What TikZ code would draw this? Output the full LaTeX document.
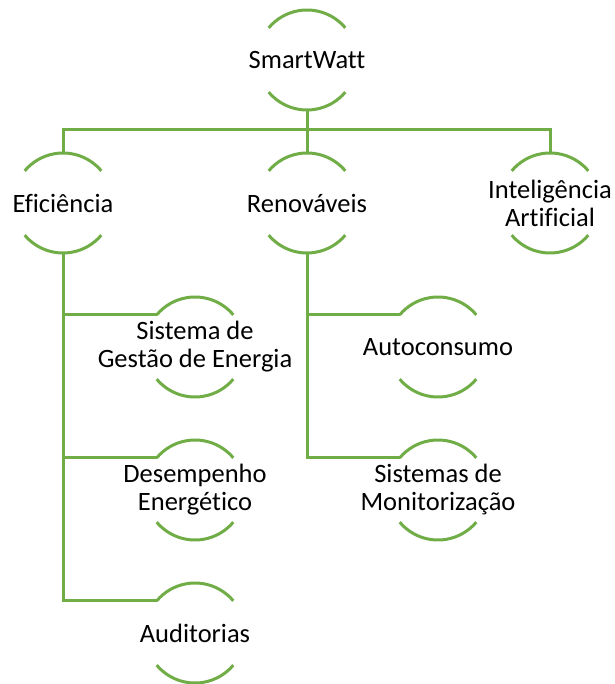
\documentclass[tikz,border=0pt]{standalone}
\usepackage{fontspec}
\setmainfont{Carlito}[Ligatures={NoCommon}]
\definecolor{leaf}{RGB}{112,173,71}

\tikzset{
  bub/.style={circle, minimum size=100pt, inner sep=0pt, outer sep=0pt},
  txt/.style={align=center, text=black, font=\fontsize{26.5}{28}\selectfont},
  rim/.style={draw=leaf, line width=3pt},
  link/.style={draw=leaf, line width=3pt}
}

\begin{document}
\begin{tikzpicture}[x=1pt,y=-1pt]%
  \useasboundingbox (0,0) rectangle (614,684);
  % top
  \node[bub, label={[txt]center:SmartWatt}] (sw) at (307,60) {};
  % second row
  \node[bub, label={[txt]center:Eficiência}] (ef) at (63,203) {};
  \node[bub, label={[txt]center:Renováveis}] (rn) at (307,203) {};
  \node[bub, label={[txt]center:Inteligência\\Artificial}] (ia) at (550,203) {};
  % under Eficiência
  \node[bub, label={[txt]center:Sistema de\\Gestão de Energia}] (gs) at (195,347) {};
  \node[bub, label={[txt]center:Desempenho\\Energético}] (de) at (195,490) {};
  \node[bub, label={[txt]center:Auditorias}] (au) at (195,633) {};
  % under Renováveis
  \node[bub, label={[txt]center:Autoconsumo}] (ac) at (438,347) {};
  \node[bub, label={[txt]center:Sistemas de\\Monitorização}] (sm) at (438,490) {};

  \coordinate (bar) at (0,130);

  % the arcs
  \foreach \n in {sw,ef,rn,ia,gs,de,au,ac,sm}
    \draw[rim] (\n.40) arc (40:140:50pt) (\n.220) arc (220:320:50pt);

  % connectors
  \draw[link] (sw.south) -- (rn.north);
  \draw[link] (ef.north) -- (ef.north |- bar) -- (ia.north |- bar) -- (ia.north);
  \draw[link] (ef.south) |- (au.140);
  \draw[link] (ef.south) |- (de.140);
  \draw[link] (ef.south) |- (gs.140);
  \draw[link] (rn.south) |- (sm.140);
  \draw[link] (rn.south) |- (ac.140);
\end{tikzpicture}
\end{document}
